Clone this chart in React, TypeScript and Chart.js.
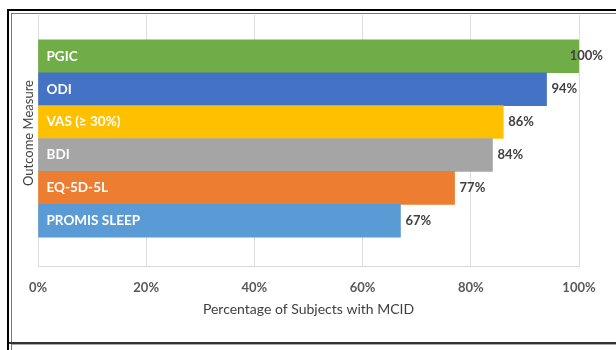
import React, { useEffect, useRef } from "react";
import { Chart, registerables } from "chart.js";

Chart.register(...registerables);

// Outcome measures, listed top to bottom
const categories = ["PGIC", "ODI", "VAS (≥ 30%)", "BDI", "EQ-5D-5L", "PROMIS SLEEP"];
// Percentage of subjects reaching MCID for each measure
const percentages = [100, 94, 86, 84, 77, 67];
const barColors = ["#70AD47", "#4472C4", "#FFC000", "#A5A5A5", "#ED7D31", "#5B9BD5"];
const xTicks = [0, 20, 40, 60, 80, 100];

const FONT = "Lato, 'Open Sans', sans-serif";
const W = 616;
const H = 350;

const barLabels = {
  id: "barLabels",
  afterDatasetsDraw(chart: any) {
    const { ctx } = chart;
    const meta = chart.getDatasetMeta(0);
    ctx.save();
    ctx.textBaseline = "middle";
    meta.data.forEach((bar: any, i: number) => {
      // measure name inside the bar
      ctx.font = `bold 13.5px ${FONT}`;
      ctx.fillStyle = "#ffffff";
      ctx.textAlign = "left";
      ctx.fillText(categories[i], bar.base + 8, bar.y);
      // value at the bar end, kept inside the canvas
      const text = `${percentages[i]}%`;
      ctx.font = `bold 13px ${FONT}`;
      ctx.fillStyle = "#404040";
      const tw = ctx.measureText(text).width;
      const x = Math.min(bar.x + 5, chart.width - 13 - tw);
      ctx.fillText(text, x, bar.y);
    });
    ctx.restore();
  },
};

const yTitle = {
  id: "yTitle",
  afterDraw(chart: any) {
    const { ctx } = chart;
    ctx.save();
    ctx.translate(29, 133);
    ctx.rotate(-Math.PI / 2);
    ctx.font = `13px ${FONT}`;
    ctx.fillStyle = "#404040";
    ctx.textAlign = "center";
    ctx.textBaseline = "middle";
    ctx.fillText("Outcome Measure", 0, 0);
    ctx.restore();
  },
};

export default function App() {
  const ref = useRef<HTMLCanvasElement>(null);

  useEffect(() => {
    if (!ref.current) return;
    const chart = new Chart(ref.current, {
      type: "bar",
      data: {
        datasets: [
          {
            data: percentages.map((v, i) => ({ x: v, y: i })),
            backgroundColor: barColors,
            borderWidth: 0,
            barPercentage: 1,
            categoryPercentage: 1,
          },
        ],
      },
      options: {
        indexAxis: "y",
        animation: false,
        responsive: false,
        maintainAspectRatio: false,
        layout: { padding: { left: 38, right: 37, top: 15, bottom: 24 } },
        plugins: {
          legend: { display: false },
          tooltip: { enabled: false },
        },
        scales: {
          y: {
            type: "linear",
            display: false,
            offset: false,
            reverse: true,
            min: -1.255,
            max: 6.375,
            grid: { offset: false },
            afterBuildTicks: (scale: any) => {
              scale.ticks = categories.map((_, i) => ({ value: i }));
            },
          },
          x: {
            type: "linear",
            min: 0,
            max: 100,
            afterBuildTicks: (scale: any) => {
              scale.ticks = xTicks.map((v) => ({ value: v }));
            },
            afterFit: (scale: any) => {
              scale.height = 60;
            },
            grid: { color: "#dedede", drawTicks: false },
            border: { color: "#d9d9d9" },
            ticks: {
              padding: 14,
              color: "#595959",
              font: { family: FONT, size: 13, weight: "bold" },
              callback: (v: any) => `${v}%`,
            },
            title: {
              display: true,
              text: "Percentage of Subjects with MCID",
              color: "#404040",
              font: { family: FONT, size: 14 },
              padding: { top: 0, bottom: 8 },
            },
          },
        },
      },
      plugins: [barLabels, yTitle],
    });
    return () => chart.destroy();
  }, []);

  const line = (s: React.CSSProperties) => (
    <div style={{ position: "absolute", ...s }} />
  );

  return (
    <div style={{ position: "fixed", left: 0, top: 0, width: W, height: H, background: "#fff", overflow: "hidden" }}>
      <canvas ref={ref} width={W} height={H} style={{ position: "absolute", left: 0, top: 0, width: W, height: H }} />
      {line({ left: 7, top: 9, width: W - 7, height: 2, background: "#000" })}
      {line({ left: 11, top: 13, width: W - 11, height: 1, background: "#777" })}
      {line({ left: 7, top: 9, width: 2, height: H - 9, background: "#000" })}
      {line({ left: 11, top: 13, width: 1, height: H - 13, background: "#777" })}
      {line({ left: 9, top: 342, width: W - 9, height: 2, background: "#333" })}
      {line({ left: 12, top: 344, width: W - 12, height: 1, background: "#aaa" })}
    </div>
  );
}
